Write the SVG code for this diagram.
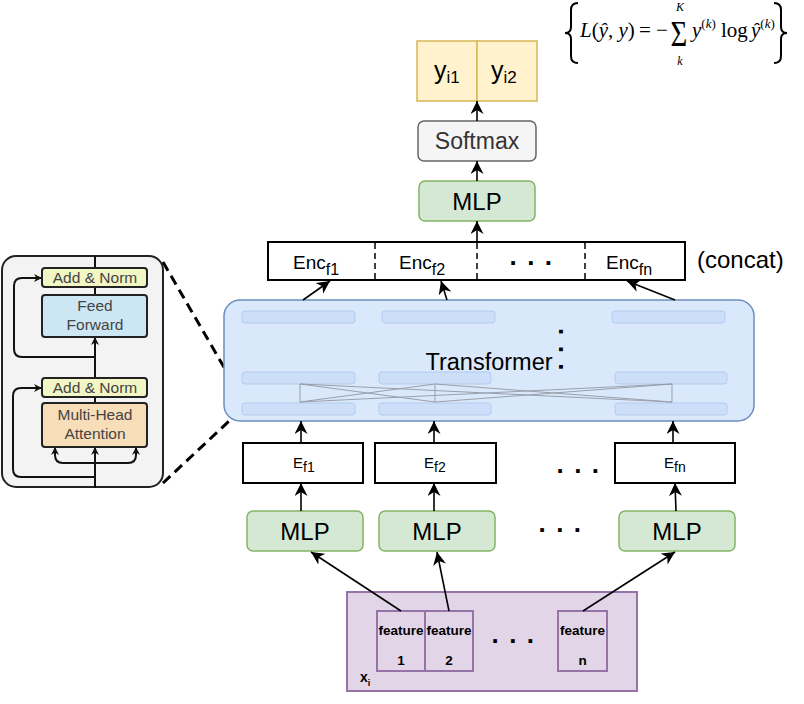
<svg xmlns="http://www.w3.org/2000/svg" width="804" height="704" viewBox="0 0 804 704">
<style>
text{font-family:"Liberation Sans",Arial,sans-serif;fill:#000}
.ln{stroke:#000;stroke-width:1.6;fill:none}
.pl{stroke:#111;stroke-width:2;fill:none}
.box{fill:#fff;stroke:#000;stroke-width:2}
.mlp{fill:#d5e8d4;stroke:#82b366;stroke-width:1.5}
.lab{font-size:24px;text-anchor:middle}
.sub{font-size:14px}
.dots{font-size:26px;font-weight:bold;letter-spacing:1.6px}
.feat{fill:#e1d5e7;stroke:#9673a6;stroke-width:2}
.ft{font-size:13.5px;font-weight:bold;text-anchor:middle}
.inner{fill:#cddff8;stroke:#b3cbee;stroke-width:1}
.cross{stroke:#8a8f99;stroke-width:1;fill:none;opacity:0.8}
.pt{font-size:15.5px;fill:#444;text-anchor:middle}
.pbox{stroke:#222;stroke-width:2}
.mth{font-family:"Liberation Serif","Times New Roman",serif}
.it{font-style:italic}
.enc{font-size:19px}
.esub{font-size:16px}
</style>
<defs>
<marker id="ar" viewBox="0 0 10 10" refX="10" refY="5" markerWidth="13" markerHeight="13" markerUnits="userSpaceOnUse" orient="auto">
<path d="M0,0 L10,5 L0,10 L3,5 z" fill="#000"/>
</marker>
<marker id="ars" viewBox="0 0 10 10" refX="10" refY="5" markerWidth="8" markerHeight="8" markerUnits="userSpaceOnUse" orient="auto">
<path d="M0,0 L10,5 L0,10 L3,5 z" fill="#111"/>
</marker>
</defs>

<!-- Transformer block detail panel -->
<g id="panel">
<rect x="2" y="256" width="161" height="231" rx="14" fill="#f3f3f3" stroke="#222" stroke-width="2"/>
<line x1="95" y1="256" x2="95" y2="268" class="pl"/>
<line x1="95" y1="287" x2="95" y2="295" class="pl"/>
<line x1="95" y1="378" x2="95" y2="337" class="pl" marker-end="url(#ars)"/>
<line x1="95" y1="397" x2="95" y2="403" class="pl"/>
<line x1="95" y1="488" x2="95" y2="447" class="pl" marker-end="url(#ars)"/>
<path d="M95,357 H22 Q14,357 14,349 V286 Q14,278 22,278 H42" class="pl" marker-end="url(#ars)"/>
<path d="M95,477 H21 Q13,477 13,469 V396 Q13,388 21,388 H42" class="pl" marker-end="url(#ars)"/>
<path d="M95,463 H63 Q55,463 55,455 V447" class="pl" marker-end="url(#ars)"/>
<path d="M95,463 H128 Q136,463 136,455 V447" class="pl" marker-end="url(#ars)"/>
<rect x="42" y="268" width="105" height="19" rx="3" fill="#f2f5c4" class="pbox"/>
<text x="95" y="283" class="pt">Add &amp; Norm</text>
<rect x="42" y="295" width="105" height="42" rx="3" fill="#cde6f4" class="pbox"/>
<text x="95" y="311" class="pt">Feed</text>
<text x="95" y="330" class="pt">Forward</text>
<rect x="42" y="378" width="105" height="19" rx="3" fill="#f2f5c4" class="pbox"/>
<text x="95" y="393" class="pt">Add &amp; Norm</text>
<rect x="42" y="403" width="105" height="44" rx="3" fill="#f8ddb9" class="pbox"/>
<text x="95" y="420" class="pt">Multi-Head</text>
<text x="95" y="439" class="pt">Attention</text>
</g>

<!-- zoom dashed lines -->
<g id="zoomlines" stroke="#000" stroke-width="3" stroke-dasharray="10 6" fill="none">
<line x1="163" y1="262" x2="243" y2="400"/>
<line x1="163" y1="483" x2="243" y2="408"/>
</g>

<!-- Transformer -->
<g id="transformer">
<rect x="224" y="300" width="530" height="121" rx="16" fill="#dae8fc" stroke="#6c8ebf" stroke-width="1.5"/>
<rect x="242" y="311" width="113" height="12" rx="3" class="inner"/>
<rect x="382" y="311" width="113" height="12" rx="3" class="inner"/>
<rect x="612" y="311" width="113" height="12" rx="3" class="inner"/>
<rect x="242" y="372" width="113" height="12" rx="3" class="inner"/>
<rect x="379" y="372" width="112" height="12" rx="3" class="inner"/>
<rect x="615" y="372" width="112" height="12" rx="3" class="inner"/>
<rect x="242" y="403" width="113" height="12" rx="3" class="inner"/>
<rect x="379" y="403" width="112" height="12" rx="3" class="inner"/>
<rect x="615" y="403" width="112" height="12" rx="3" class="inner"/>
<g class="cross">
<line x1="300" y1="384" x2="300" y2="402"/>
<line x1="435" y1="384" x2="435" y2="402"/>
<line x1="672" y1="384" x2="672" y2="402"/>
<line x1="300" y1="384" x2="435" y2="402"/>
<line x1="300" y1="402" x2="435" y2="384"/>
<line x1="300" y1="384" x2="672" y2="402"/>
<line x1="300" y1="402" x2="672" y2="384"/>
<line x1="435" y1="384" x2="672" y2="402"/>
<line x1="435" y1="402" x2="672" y2="384"/>
</g>
<text x="489" y="370" style="font-size:23.5px;text-anchor:middle">Transformer</text>
<text class="dots" transform="translate(559,328) rotate(90)">. . .</text>
</g>

<!-- outputs -->
<g id="output">
<rect x="417" y="41" width="60" height="60" fill="#fff2cc" stroke="#d6b656" stroke-width="1.5"/>
<rect x="477" y="41" width="60" height="60" fill="#fff2cc" stroke="#d6b656" stroke-width="1.5"/>
<text x="434" y="79" style="font-size:25px">y<tspan dy="4" style="font-size:17px">i1</tspan></text>
<text x="491" y="79" style="font-size:25px">y<tspan dy="4" style="font-size:17px">i2</tspan></text>
</g>
<g id="softmax">
<rect x="418" y="121" width="118" height="40" rx="6" fill="#f5f5f5" stroke="#666" stroke-width="1.5"/>
<text x="477" y="149" style="font-size:23px;text-anchor:middle;fill:#333">Softmax</text>
</g>
<g id="mlp-top">
<rect x="419" y="181" width="116" height="40" rx="6" class="mlp"/>
<text x="477" y="209.5" class="lab">MLP</text>
</g>

<!-- Enc concat -->
<g id="enc">
<rect x="268" y="242" width="417" height="38" class="box"/>
<g stroke="#000" stroke-width="1.5" stroke-dasharray="6 4">
<line x1="375" y1="243" x2="375" y2="279"/>
<line x1="477" y1="243" x2="477" y2="279"/>
<line x1="585" y1="243" x2="585" y2="279"/>
</g>
<text x="293" y="269" class="enc">Enc<tspan dy="6" class="esub">f1</tspan></text>
<text x="399" y="269" class="enc">Enc<tspan dy="6" class="esub">f2</tspan></text>
<text x="509.5" y="265" class="dots">. . .</text>
<text x="606" y="269" class="enc">Enc<tspan dy="6" class="esub">fn</tspan></text>
<text x="697" y="268" style="font-size:24px">(concat)</text>
</g>

<!-- E boxes -->
<g id="ef1">
<rect x="243" y="443" width="120" height="40" class="box"/>
<text x="293" y="468" style="font-size:15px">E<tspan dy="4" class="sub">f1</tspan></text>
</g>
<g id="ef2">
<rect x="375" y="443" width="121" height="40" class="box"/>
<text x="424" y="468" style="font-size:15px">E<tspan dy="4" class="sub">f2</tspan></text>
</g>
<g id="efn">
<rect x="615" y="443" width="120" height="40" class="box"/>
<text x="664" y="468" style="font-size:15px">E<tspan dy="4" class="sub">fn</tspan></text>
</g>
<text x="556.5" y="473" class="dots">. . .</text>

<!-- MLP row -->
<g id="mlp1">
<rect x="247" y="511" width="116" height="40" rx="6" class="mlp"/>
<text x="305" y="539.5" class="lab">MLP</text>
</g>
<g id="mlp2">
<rect x="379" y="511" width="116" height="40" rx="6" class="mlp"/>
<text x="437" y="539.5" class="lab">MLP</text>
</g>
<g id="mlpn">
<rect x="619" y="511" width="116" height="40" rx="6" class="mlp"/>
<text x="677" y="539.5" class="lab">MLP</text>
</g>
<text x="538.5" y="532" class="dots">. . .</text>

<!-- input features -->
<g id="input">
<rect x="347" y="592" width="290" height="99" class="feat"/>
<text x="360" y="682" style="font-size:14px;font-weight:bold">x<tspan dy="4" style="font-size:9px">i</tspan></text>
<text x="491.5" y="643" class="dots">. . .</text>
</g>
<g id="feature1">
<rect x="377" y="611" width="48" height="60" class="feat"/>
<text x="401" y="635" class="ft">feature</text>
<text x="401" y="665" class="ft">1</text>
</g>
<g id="feature2">
<rect x="425" y="611" width="48" height="60" class="feat"/>
<text x="449" y="635" class="ft">feature</text>
<text x="449" y="665" class="ft">2</text>
</g>
<g id="featuren">
<rect x="558" y="611" width="49" height="60" class="feat"/>
<text x="582.5" y="635" class="ft">feature</text>
<text x="582.5" y="665" class="ft">n</text>
</g>

<!-- loss formula -->
<g id="loss">
<path d="M578,3 Q571,3 571,10 V27 Q571,33 565,33 Q571,33 571,39 V56 Q571,63 578,63" fill="none" stroke="#000" stroke-width="2"/>
<path d="M774,3 Q781,3 781,10 V27 Q781,33 787,33 Q781,33 781,39 V56 Q781,63 774,63" fill="none" stroke="#000" stroke-width="2"/>
<text class="mth" x="580" y="37" style="font-size:21px"><tspan class="it">L</tspan>(<tspan class="it">ŷ</tspan>, <tspan class="it">y</tspan>)</text>
<text class="mth" x="639" y="37" style="font-size:21px">=</text>
<text class="mth" x="656" y="37" style="font-size:21px">−</text>
<text class="mth" transform="translate(679,46) scale(0.8,1)" style="font-size:36px;text-anchor:middle">Σ</text>
<text class="mth it" x="680" y="11" style="font-size:12px;text-anchor:middle">K</text>
<text class="mth it" x="680" y="65" style="font-size:12px;text-anchor:middle">k</text>
<text class="mth" x="692" y="37" style="font-size:21px"><tspan class="it">y</tspan><tspan dy="-9" style="font-size:13px">(<tspan class="it">k</tspan>)</tspan></text>
<text class="mth" x="721" y="37" style="font-size:21px">log</text>
<text class="mth" x="751" y="37" style="font-size:21px"><tspan class="it">ŷ</tspan><tspan dy="-9" style="font-size:13px">(<tspan class="it">k</tspan>)</tspan></text>
</g>

<!-- connectors -->
<g id="connectors" class="ln">
<line x1="477" y1="121" x2="477" y2="101" class="ln" marker-end="url(#ar)"/>
<line x1="477" y1="181" x2="477" y2="161" class="ln" marker-end="url(#ar)"/>
<line x1="477" y1="242" x2="477" y2="221" class="ln" marker-end="url(#ar)"/>
<line x1="303" y1="300" x2="330" y2="281" class="ln" marker-end="url(#ar)"/>
<line x1="447" y1="300" x2="441" y2="281" class="ln" marker-end="url(#ar)"/>
<line x1="675" y1="300" x2="627" y2="281" class="ln" marker-end="url(#ar)"/>
<line x1="301" y1="443" x2="301" y2="421" class="ln" marker-end="url(#ar)"/>
<line x1="434" y1="443" x2="434" y2="421" class="ln" marker-end="url(#ar)"/>
<line x1="673" y1="443" x2="673" y2="421" class="ln" marker-end="url(#ar)"/>
<line x1="301" y1="511" x2="301" y2="483" class="ln" marker-end="url(#ar)"/>
<line x1="434" y1="511" x2="434" y2="483" class="ln" marker-end="url(#ar)"/>
<line x1="676" y1="511" x2="675" y2="483" class="ln" marker-end="url(#ar)"/>
<line x1="401" y1="611" x2="311" y2="552" class="ln" marker-end="url(#ar)"/>
<line x1="449" y1="611" x2="437" y2="552" class="ln" marker-end="url(#ar)"/>
<line x1="583" y1="611" x2="675" y2="552" class="ln" marker-end="url(#ar)"/>
</g>
</svg>
